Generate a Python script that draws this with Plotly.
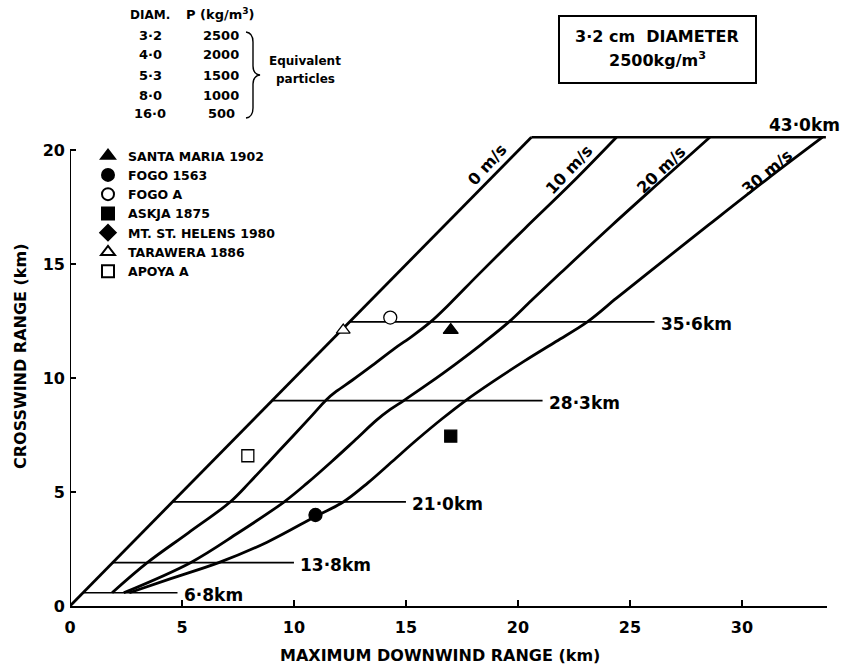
import plotly.graph_objects as go

# ---------------- data ----------------
wind0_x = [0.0, 20.6]
wind0_y = [0.0, 20.56]

wind10_x = [1.88, 3.45, 5.3, 7.15, 8.0, 9.0, 10.0, 10.8, 11.45, 11.9, 12.6, 13.5, 14.5, 15.3, 16.1, 17.0, 18.2, 20.3, 22.4, 24.4]
wind10_y = [0.58, 1.90, 3.22, 4.56, 5.40, 6.45, 7.50, 8.35, 9.05, 9.42, 9.90, 10.55, 11.30, 11.85, 12.46, 13.30, 14.50, 16.55, 18.55, 20.56]

wind20_x = [2.4, 5.38, 7.5, 9.55, 10.6, 11.7, 12.7, 13.7, 14.3, 14.9, 16.0, 17.2, 18.4, 19.6, 20.6, 21.9, 24.2, 26.4, 28.57]
wind20_y = [0.58, 1.90, 3.20, 4.56, 5.40, 6.35, 7.25, 8.16, 8.62, 9.01, 9.75, 10.60, 11.50, 12.46, 13.40, 14.60, 16.70, 18.65, 20.56]

wind30_x = [2.65, 4.5, 6.64, 8.8, 11.0, 12.2, 13.3, 14.4, 15.5, 16.6, 17.65, 18.9, 20.3, 21.7, 23.1, 24.4, 25.8, 28.5, 31.1, 33.6]
wind30_y = [0.58, 1.20, 1.90, 2.80, 3.95, 4.56, 5.40, 6.35, 7.30, 8.20, 9.00, 9.85, 10.75, 11.60, 12.46, 13.50, 14.60, 16.70, 18.70, 20.56]

wind_labels = ["0 m/s", "10 m/s", "20 m/s", "30 m/s"]
wind_label_x = [18.64, 22.29, 26.41, 31.1]
wind_label_y = [19.35, 19.15, 19.15, 19.03]
wind_label_angle = [-48, -47, -44, -40]

height_labels = ["6·8km", "13·8km", "21·0km", "28·3km", "35·6km", "43·0km"]
height_y = [0.58, 1.90, 4.57, 9.01, 12.46, 20.56]
height_x0 = [0.6, 1.9, 4.6, 9.05, 12.5, 20.6]
height_x1 = [4.8, 10.0, 15.0, 21.1, 26.1, 33.75]

sites = ["SANTA MARIA 1902", "FOGO 1563", "FOGO A", "ASKJA 1875",
         "MT. ST. HELENS 1980", "TARAWERA 1886", "APOYA A"]
site_x = [17.0, 10.96, 14.3, 17.0, None, 12.2, 7.94]
site_y = [12.1, 3.99, 12.65, 7.45, None, 12.1, 6.59]
site_symbol = ["triangle-up", "circle", "circle", "square", "diamond", "triangle-up", "square"]
site_fill = ["black", "black", "white", "black", "black", "white", "white"]
site_size = [13, 13, 13, 12, 14, 12, 12]

table_diam = ["3·2", "4·0", "5·3", "8·0", "16·0"]
table_rho = ["2500", "2000", "1500", "1000", "500"]

x_ticks = [0, 5, 10, 15, 20, 25, 30]
y_ticks = [0, 5, 10, 15, 20]

# ---------------- layout geometry ----------------
W, H = 841, 667
ML, MR, MT, MB = 70, 14, 134, 61
PW = W - ML - MR
PH = H - MT - MB


def px(xp):
    return (xp - ML) / PW


def py(yp):
    return (H - MB - yp) / PH


FONT = "DejaVu Sans"
fig = go.Figure()

# wind curves
for cx, cy in [(wind0_x, wind0_y), (wind10_x, wind10_y), (wind20_x, wind20_y), (wind30_x, wind30_y)]:
    fig.add_trace(go.Scatter(x=cx, y=cy, mode="lines", showlegend=False, hoverinfo="skip",
                             line=dict(color="black", width=2.8, shape="spline", smoothing=1.0)))

# height lines
for i in range(len(height_y)):
    fig.add_trace(go.Scatter(x=[height_x0[i], height_x1[i]], y=[height_y[i], height_y[i]],
                             mode="lines", showlegend=False, hoverinfo="skip",
                             line=dict(color="black", width=1.7 if i < 5 else 2.6)))

# sites
for i in range(len(sites)):
    fig.add_trace(go.Scatter(x=[site_x[i]], y=[site_y[i]], mode="markers", name=sites[i],
                             marker=dict(symbol=site_symbol[i], size=site_size[i], color=site_fill[i],
                                         line=dict(color="black", width=1.3)),
                             cliponaxis=False))


def bold(size):
    return dict(family=FONT, size=size, color="black", weight="bold")


ann = []
# wind labels
for i in range(4):
    ann.append(dict(x=wind_label_x[i], y=wind_label_y[i], xref="x", yref="y", text=wind_labels[i],
                    showarrow=False, textangle=wind_label_angle[i], xanchor="center", yanchor="middle",
                    font=bold(16)))
# height labels
for i in range(5):
    ann.append(dict(x=height_x1[i], y=height_y[i], xref="x", yref="y", text=height_labels[i],
                    showarrow=False, xanchor="left", yanchor="middle", xshift=4, yshift=-2,
                    font=bold(17)))
ann.append(dict(x=32.8, y=height_y[5], xref="x", yref="y", text=height_labels[5], showarrow=False,
                xanchor="center", yanchor="bottom", font=bold(17)))


def pann(xp, yp, text, size, **kw):
    d = dict(x=px(xp), y=py(yp), xref="paper", yref="paper", text=text, showarrow=False,
             xanchor="center", yanchor="middle", font=bold(size))
    d.update(kw)
    return d


# table
ann.append(pann(150, 15, "DIAM.", 12))
ann.append(pann(220, 14, "P (kg/m<sup>3</sup>)", 13))
rows_y = [35, 55, 75, 95, 114]
for i in range(5):
    ann.append(pann(150, rows_y[i], table_diam[i], 13))
    ann.append(pann(221, rows_y[i], table_rho[i], 13))
ann.append(pann(305, 61, "Equivalent", 12))
ann.append(pann(305, 79, "particles", 12))

# box text
ann.append(pann(657, 36, "3·2 cm  DIAMETER", 16))
ann.append(pann(657, 59, "2500kg/m<sup>3</sup>", 16))

# axis titles
ann.append(pann(440, 655, "MAXIMUM DOWNWIND RANGE (km)", 16))
ann.append(pann(20, 356, "CROSSWIND RANGE (km)", 16, textangle=-90))


# brace path (pixel points -> paper)
def P(a, b):
    return f"{px(a):.5f},{py(b):.5f}"


brace = (f"M {P(246,32)} Q {P(253,33)} {P(253,42)} L {P(253,66)} Q {P(253,74)} {P(260,75)} "
         f"Q {P(253,76)} {P(253,84)} L {P(253,108)} Q {P(253,117)} {P(246,118)}")

shapes = [
    dict(type="path", path=brace, xref="paper", yref="paper", line=dict(color="black", width=1.4)),
    dict(type="rect", xref="paper", yref="paper", x0=px(559), x1=px(756), y0=py(16), y1=py(83),
         line=dict(color="black", width=2)),
    dict(type="line", xref="x", yref="y", x0=0, x1=0, y0=0, y1=20, line=dict(color="black", width=2)),
]

fig.update_layout(
    width=W, height=H,
    margin=dict(l=ML, r=MR, t=MT, b=MB),
    paper_bgcolor="white", plot_bgcolor="white",
    annotations=ann, shapes=shapes,
    showlegend=True,
    legend=dict(x=px(88), y=py(141), xanchor="left", yanchor="top", bgcolor="rgba(0,0,0,0)",
                font=bold(12.5), tracegroupgap=0, itemsizing="constant"),
    xaxis=dict(range=[0, 33.8], tickvals=x_ticks, showgrid=False, zeroline=False,
               showline=True, linecolor="black", linewidth=2, ticks="inside", ticklen=6,
               tickwidth=1.5, tickcolor="black", ticklabelstandoff=6,
               tickfont=bold(16)),
    yaxis=dict(range=[0, 20.7], tickvals=y_ticks, showgrid=False, zeroline=False,
               showline=False, ticks="inside", ticklen=6, tickwidth=1.5, tickcolor="black",
               ticklabelstandoff=4, tickfont=bold(16)),
)

fig.write_html("out.html")
